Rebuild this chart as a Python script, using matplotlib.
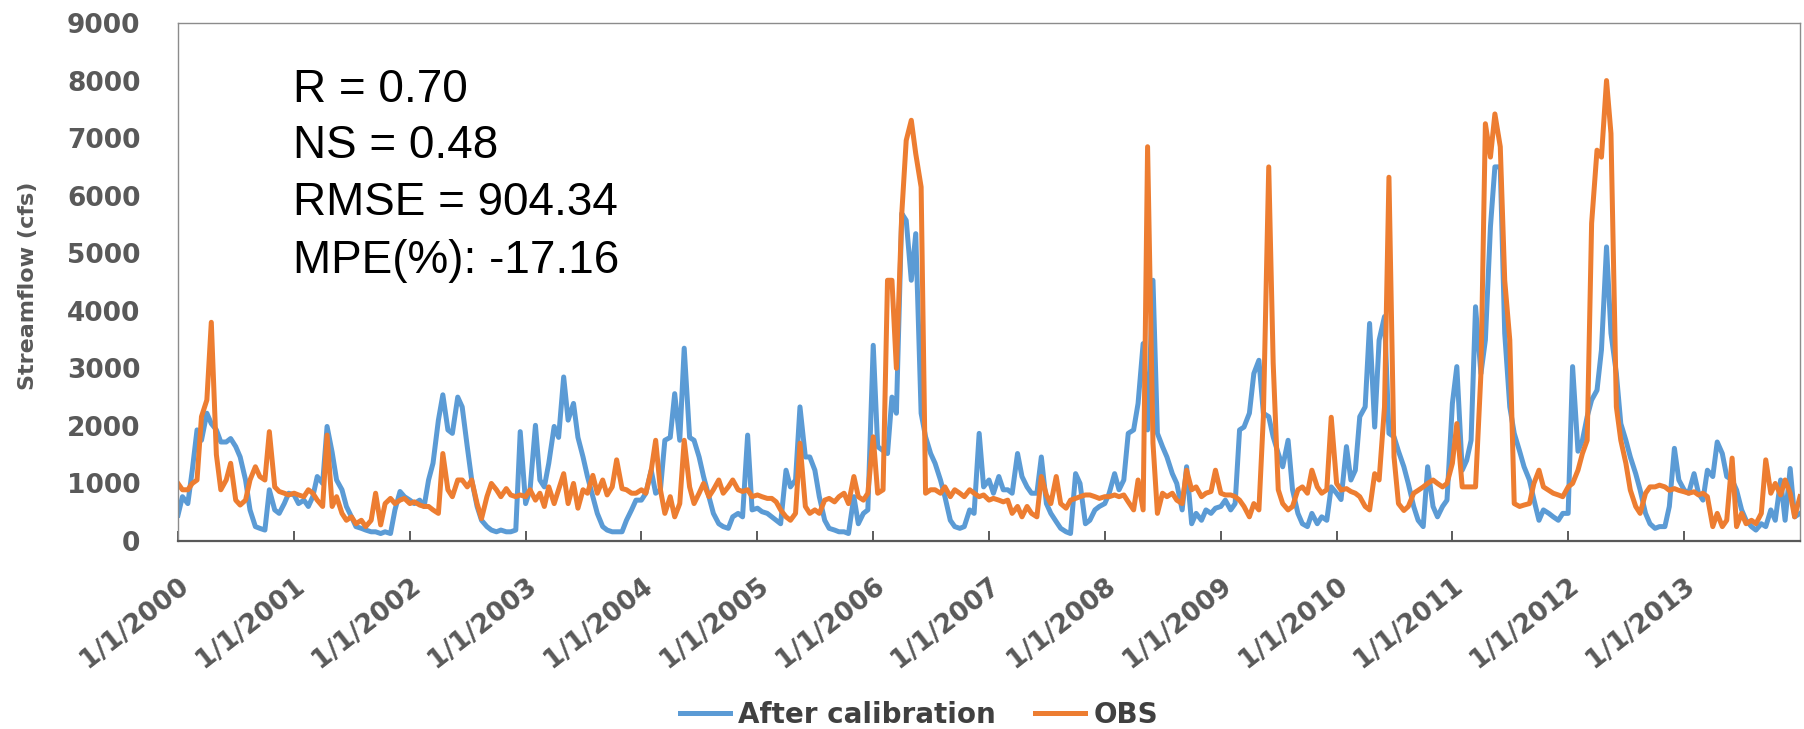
import numpy as np
import pandas as pd
import matplotlib
matplotlib.use("Agg")
import matplotlib.pyplot as plt

# semi-monthly streamflow (cfs), 1/1/2000 .. 1/1/2014, one row per year
sim_flow = [
    450, 770, 650, 1230, 1930, 1750, 2220, 2040, 1930, 1720, 1720, 1780, 1640, 1460, 1060, 540, 250, 220, 190, 890, 540, 480, 650, 830,
    800, 650, 710, 600, 770, 1120, 1000, 1990, 1540, 1060, 890, 600, 420, 250, 220, 190, 160, 160, 130, 160, 130, 540, 860, 770,
    710, 650, 710, 600, 1060, 1350, 2100, 2540, 1930, 1870, 2500, 2330, 1640, 1060, 600, 360, 250, 190, 160, 190, 160, 160, 190, 1900,
    650, 890, 2010, 1060, 940, 1350, 1990, 1800, 2850, 2100, 2390, 1800, 1460, 1120, 770, 480, 250, 190, 160, 160, 160, 360, 540, 710,
    710, 830, 1230, 830, 890, 1750, 1800, 2560, 1750, 3350, 1800, 1750, 1460, 1120, 770, 480, 300, 250, 220, 420, 480, 420, 1840, 540,
    570, 510, 480, 420, 360, 300, 1230, 940, 1060, 2330, 1460, 1460, 1230, 770, 360, 220, 190, 160, 160, 130, 770, 300, 480, 540,
    3400, 1640, 1570, 1520, 2500, 2220, 5690, 5570, 4530, 5340, 2220, 1810, 1520, 1350, 1060, 770, 360, 250, 220, 250, 540, 480, 1870, 940,
    1060, 830, 1120, 890, 890, 830, 1520, 1120, 940, 830, 830, 1460, 650, 480, 335, 220, 160, 130, 1170, 1000, 300, 360, 540, 600,
    650, 830, 1170, 890, 1060, 1870, 1930, 2390, 3430, 1930, 4530, 1870, 1640, 1460, 1170, 1000, 540, 1290, 300, 480, 360, 540, 480, 570,
    600, 710, 540, 650, 1930, 1980, 2220, 2910, 3140, 2220, 2160, 1810, 1520, 1290, 1750, 890, 480, 300, 250, 480, 300, 420, 360, 940,
    830, 720, 1640, 1060, 1230, 2160, 2330, 3780, 1980, 3490, 3900, 1870, 1810, 1560, 1290, 1000, 600, 360, 250, 1290, 600, 420, 600, 710,
    2390, 3030, 1230, 1400, 1750, 4070, 2910, 3490, 5460, 6500, 6500, 3610, 2330, 1870, 1560, 1290, 1060, 720, 360, 540, 480, 420, 360, 480,
    480, 3030, 1560, 1750, 2160, 2450, 2620, 3320, 5110, 3610, 2910, 2040, 1750, 1460, 1170, 885, 480, 300, 220, 250, 250, 600, 1610, 1060,
    885, 830, 1170, 830, 710, 1230, 1120, 1720, 1520, 1120, 1060, 885, 540, 360, 250, 190, 300, 250, 540, 360, 1060, 360, 1260, 420,
    480,
]

obs_flow = [
    1000, 890, 890, 1000, 1060, 2160, 2450, 3800, 1500, 890, 1060, 1350, 710, 625, 710, 1060, 1290, 1120, 1060, 1900, 940, 860, 830, 800,
    830, 800, 770, 890, 830, 710, 600, 1840, 600, 770, 480, 360, 420, 300, 360, 250, 360, 830, 280, 650, 740, 650, 710, 740,
    650, 680, 625, 600, 600, 540, 480, 1520, 890, 770, 1060, 1060, 940, 1060, 650, 390, 770, 1000, 890, 770, 910, 800, 770, 800,
    770, 890, 710, 830, 600, 940, 650, 890, 1170, 650, 1000, 570, 890, 830, 1140, 830, 1060, 800, 940, 1410, 910, 890, 830, 830,
    890, 830, 1230, 1750, 890, 480, 770, 420, 650, 1750, 940, 650, 830, 1000, 770, 890, 1060, 830, 940, 1060, 890, 860, 890, 770,
    800, 770, 740, 740, 680, 540, 420, 360, 480, 1700, 600, 480, 540, 480, 710, 740, 680, 770, 830, 650, 1120, 770, 710, 830,
    1810, 830, 890, 4530, 4530, 3000, 5690, 6960, 7310, 6730, 6150, 830, 890, 890, 830, 940, 770, 890, 830, 770, 890, 830, 770, 800,
    710, 740, 710, 680, 710, 480, 600, 420, 600, 480, 420, 1120, 800, 650, 1120, 650, 570, 710, 740, 770, 800, 800, 770, 740,
    770, 770, 800, 770, 800, 680, 540, 1060, 540, 6850, 1700, 480, 830, 770, 830, 710, 650, 1230, 890, 940, 770, 830, 860, 1230,
    830, 800, 800, 770, 710, 600, 420, 650, 540, 2150, 6500, 3090, 890, 650, 540, 600, 890, 940, 830, 1230, 940, 830, 890, 2150,
    1000, 885, 910, 860, 830, 770, 600, 540, 1170, 1060, 2330, 6320, 1460, 650, 530, 600, 830, 880, 940, 1000, 1060, 1000, 940, 1000,
    1350, 2040, 940, 940, 940, 940, 2910, 7250, 6670, 7420, 6850, 4530, 3490, 650, 600, 625, 650, 1000, 1230, 940, 880, 830, 800, 770,
    940, 1000, 1230, 1520, 1750, 5520, 6790, 6670, 8000, 7080, 2330, 1750, 1350, 885, 600, 480, 830, 940, 940, 970, 940, 880, 910, 880,
    855, 830, 855, 800, 830, 770, 250, 480, 250, 360, 1440, 250, 480, 300, 360, 300, 480, 1410, 830, 1000, 800, 1060, 830, 420,
    770,
]

years = list(range(2000, 2014))
stats_lines = ["R = 0.70", "NS = 0.48", "RMSE = 904.34", "MPE(%): -17.16"]

dates = pd.date_range("2000-01-01", periods=len(sim_flow), freq="SMS")

W, H = 1804, 729
fig = plt.figure(figsize=(W / 100, H / 100), dpi=100)
ax = fig.add_axes([178 / W, 1 - 541 / H, (1800 - 178) / W, (541 - 23) / H])

ax.plot(dates, sim_flow, color="#5B9BD5", lw=3.6, label="After calibration",
        solid_joinstyle="round")
ax.plot(dates, obs_flow, color="#ED7D31", lw=3.6, label="OBS",
        solid_joinstyle="round")

ax.set_xlim(pd.Timestamp("2000-01-01"), pd.Timestamp("2014-01-01"))
ax.set_ylim(0, 9000)
ax.set_yticks(range(0, 9001, 1000))
ax.set_xticks([pd.Timestamp(f"{y}-01-01") for y in years])
ax.set_xticklabels([f"1/1/{y}" for y in years], rotation=38, ha="right",
                   rotation_mode="anchor")

tick_font = dict(family="DejaVu Sans", weight="bold", size=19)
for lab in ax.get_yticklabels() + ax.get_xticklabels():
    lab.set_fontproperties(tick_font)
    lab.set_color("#595959")

ax.tick_params(axis="y", length=0, pad=27)
ax.tick_params(axis="x", direction="in", length=7, width=1.2, color="#404040", pad=23)

for side in ("left", "top", "right"):
    ax.spines[side].set_color("#8c8c8c")
    ax.spines[side].set_linewidth(1.0)
ax.spines["bottom"].set_color("#595959")
ax.spines["bottom"].set_linewidth(1.6)

fig.text(28 / W, 1 - 286 / H, "Streamflow (cfs)", rotation=90, ha="center", va="center",
         family="DejaVu Sans", weight="bold", size=16, color="#595959")

for line, base in zip(stats_lines, [102, 158, 215, 273]):
    fig.text(293 / W, 1 - base / H, line, ha="left", va="baseline",
             family="Liberation Sans", size=33, color="black")

leg = fig.legend(loc="center", bbox_to_anchor=(919 / W, 1 - 715 / H), ncol=2,
                 frameon=False, handlelength=1.8, handletextpad=0.3, columnspacing=1.4,
                 prop=dict(family="DejaVu Sans", weight="bold", size=20))
for t in leg.get_texts():
    t.set_color("#404040")

fig.savefig("out.png", dpi=100)
